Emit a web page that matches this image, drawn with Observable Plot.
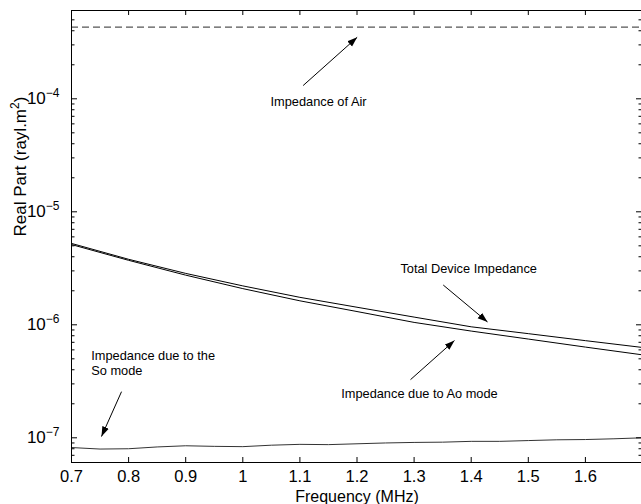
<!DOCTYPE html>
<html><head><meta charset="utf-8">
<script src="https://cdn.jsdelivr.net/npm/d3@7"></script>
<script src="https://cdn.jsdelivr.net/npm/@observablehq/plot@0.6"></script>
<style>body{margin:0;background:#fff} svg{display:block}</style>
</head><body><div id="chart"></div>
<script>
// ---- data ----
const freq = [0.7, 0.8, 0.9, 1.0, 1.1, 1.2, 1.3, 1.4, 1.5, 1.6, 1.7];
const totalDevice = [5.25e-6, 3.80e-6, 2.85e-6, 2.21e-6, 1.75e-6, 1.43e-6, 1.17e-6, 9.6e-7, 8.35e-7, 7.24e-7, 6.3e-7];
const aoMode = [5.13e-6, 3.72e-6, 2.75e-6, 2.09e-6, 1.63e-6, 1.31e-6, 1.05e-6, 8.8e-7, 7.48e-7, 6.35e-7, 5.42e-7];
const soFreq = [0.7, 0.75, 0.8, 0.85, 0.9, 0.95, 1.0, 1.05, 1.1, 1.15, 1.2, 1.25, 1.3, 1.35, 1.4, 1.45, 1.5, 1.55, 1.6, 1.65, 1.7];
const soMode = [8.2e-8, 7.95e-8, 8.0e-8, 8.3e-8, 8.5e-8, 8.4e-8, 8.35e-8, 8.6e-8, 8.75e-8, 8.7e-8, 8.85e-8, 9.0e-8, 9.1e-8, 9.15e-8, 9.3e-8, 9.3e-8, 9.45e-8, 9.6e-8, 9.65e-8, 9.8e-8, 1.0e-7];
const airImpedance = 4.3e-4;

const xTickValues = [0.7, 0.8, 0.9, 1.0, 1.1, 1.2, 1.3, 1.4, 1.5, 1.6];
const yTickValues = [1e-7, 1e-6, 1e-5, 1e-4];
const xLabel = "Frequency (MHz)";
const yLabel = "Real Part (rayl.m²)";

const annotationTexts = ["Impedance of Air", "Total Device Impedance", "Impedance due to Ao mode", "Impedance due to the", "So mode"];
const annotationX = [1.0485, 1.276, 1.1723, 0.7345, 0.7345];
const annotationY = [9.33e-5, 3.11e-6, 2.44e-7, 5.32e-7, 3.94e-7];

const arrowX1 = [1.1057, 1.351, 1.2937, 0.7876];
const arrowY1 = [1.31e-4, 2.25e-6, 3.27e-7, 2.56e-7];
const arrowX2 = [1.2003, 1.4286, 1.3708, 0.7525];
const arrowY2 = [3.5e-4, 1.06e-6, 7.26e-7, 1.026e-7];

// ---- tables ----
const curves = freq.map((f, i) => ({f, total: totalDevice[i], ao: aoMode[i]}));
const so = soFreq.map((f, i) => ({f, v: soMode[i]}));
const notes = annotationTexts.map((t, i) => ({t, x: annotationX[i], y: annotationY[i]}));
const arrows = arrowX1.map((x1, i) => ({x1, y1: arrowY1[i], x2: arrowX2[i], y2: arrowY2[i]}));

const yDomain = [6.045e-8, 6.045e-4];
const yMinor = [];
for (let e = -8; e <= -4; e++) for (let k = 2; k <= 9; k++) {
  const v = k * Math.pow(10, e);
  if (v > yDomain[0] * 1.05 && v < yDomain[1] * 0.97) yMinor.push(v);
}

function arrowHead(color, context) {
  const doc = (context && context.document) || document;
  const ns = "http://www.w3.org/2000/svg";
  const m = doc.createElementNS(ns, "marker");
  m.setAttribute("viewBox", "-10 -4 10 8");
  m.setAttribute("markerWidth", 10);
  m.setAttribute("markerHeight", 8);
  m.setAttribute("refX", 0);
  m.setAttribute("refY", 0);
  m.setAttribute("orient", "auto");
  m.setAttribute("markerUnits", "userSpaceOnUse");
  const p = doc.createElementNS(ns, "path");
  p.setAttribute("d", "M-10,-3.5L0,0L-10,3.5Z");
  p.setAttribute("fill", "black");
  p.setAttribute("stroke", "none");
  m.appendChild(p);
  return m;
}

const W = 571; // inner width
const chart = Plot.plot({
  width: 641, height: 504,
  marginLeft: 71, marginRight: -1, marginTop: 10, marginBottom: 42,
  style: {fontFamily: "'Liberation Sans', Arial, Helvetica, sans-serif", background: "white", color: "black"},
  x: {domain: [0.7, 1.7], axis: null},
  y: {type: "log", domain: yDomain, axis: null},
  marks: [
    Plot.ruleY([airImpedance], {stroke: "#555", strokeWidth: 1.2, strokeDasharray: "7,4"}),
    Plot.line(curves, {x: "f", y: "total", stroke: "black", strokeWidth: 1}),
    Plot.line(curves, {x: "f", y: "ao", stroke: "black", strokeWidth: 1}),
    Plot.line(so, {x: "f", y: "v", stroke: "#333", strokeWidth: 1}),
    Plot.text(notes, {x: "x", y: "y", text: "t", textAnchor: "start", lineAnchor: "middle", fontSize: 12.8, fill: "black"}),
    Plot.link(arrows, {x1: "x1", y1: "y1", x2: "x2", y2: "y2", stroke: "black", strokeWidth: 1, markerEnd: arrowHead}),
    // ticks (inside, MATLAB style)
    Plot.tickX(xTickValues.slice(1), {x: d => d, insetTop: 452 - 5, stroke: "black"}),
    Plot.tickX(xTickValues.slice(1), {x: d => d, insetBottom: 452 - 5, stroke: "black"}),
    Plot.tickY(yTickValues, {y: d => d, insetRight: W - 6, stroke: "black"}),
    Plot.tickY(yMinor, {y: d => d, insetRight: W - 3.5, stroke: "black"}),
    Plot.tickY(yTickValues, {y: d => d, insetLeft: W - 6, stroke: "black"}),
    Plot.tickY(yMinor, {y: d => d, insetLeft: W - 3.5, stroke: "black"}),
    Plot.axisX({ticks: xTickValues, tickSize: 0, tickPadding: 8, fontSize: 16.5, tickFormat: d => d3.format("~g")(d), label: null}),
    Plot.axisY({ticks: yTickValues, tickSize: 0, tickPadding: 12, fontSize: 17, tickFormat: d => "10^" + Math.round(Math.log10(d)), label: null}),
    Plot.text([xLabel], {frameAnchor: "bottom", dy: 34, fontSize: 16, lineAnchor: "middle", fill: "black"}),
    Plot.text([yLabel], {frameAnchor: "left", dx: -51, rotate: -90, fontSize: 17, lineAnchor: "middle", fill: "black"}),
    Plot.frame({stroke: "black", strokeWidth: 1})
  ]
});

// superscripts
d3.select(chart).selectAll("text").each(function () {
  const t = this.textContent;
  const m = /^10\^(-?\d+)$/.exec(t);
  const sel = d3.select(this);
  if (m) {
    sel.text(null);
    sel.append("tspan").text("10");
    sel.append("tspan").attr("dy", "-7").attr("font-size", "12").text("\u2212" + Math.abs(+m[1]));
  } else if (t === yLabel) {
    sel.text(null);
    sel.append("tspan").text("Real Part (rayl.m");
    sel.append("tspan").attr("dy", "-7").attr("font-size", "12").text("2");
    sel.append("tspan").attr("dy", "7").text(")");
  }
});

document.getElementById("chart").appendChild(chart);
</script>
</body></html>
